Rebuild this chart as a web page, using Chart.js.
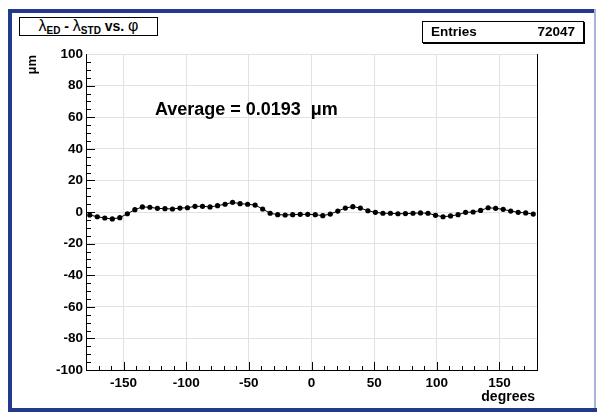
<!DOCTYPE html>
<html><head><meta charset="utf-8">
<script src="https://cdn.jsdelivr.net/npm/chart.js@4.4.1/dist/chart.umd.min.js"></script>
<style>
html,body{margin:0;padding:0;background:#fff;}
#wrap{position:relative;width:597px;height:412px;overflow:hidden;}
#c{position:absolute;left:0;top:0;}
.box{position:absolute;background:#fff;border:1px solid #000;font-family:"Liberation Sans",Arial,Helvetica,sans-serif;color:#000;box-sizing:border-box;}
#title{left:19px;top:17px;width:139px;height:19px;font-size:14px;font-weight:bold;text-align:center;line-height:16px;white-space:nowrap;}
#title .g{font-weight:normal;font-size:16px;}
#title sub{font-size:10px;vertical-align:-3px;line-height:0;}
#stats{left:422px;top:21px;width:162px;height:22px;box-shadow:1px 1px 0 #000;font-size:13.5px;font-weight:bold;line-height:20px;}
#stats .l{position:absolute;left:8px;top:0;}
#stats .r{position:absolute;right:8px;top:0;}
</style>
</head><body>
<div id="wrap">
<canvas id="c" width="597" height="412"></canvas>
<div class="box" id="title"><span class="g">λ</span><sub>ED</sub> - <span class="g">λ</span><sub>STD</sub> vs. <span class="g">φ</span></div>
<div class="box" id="stats"><span class="l">Entries</span><span class="r">72047</span></div>
</div>
<script>
// phi bin centres (degrees)
const phiDeg = [-177,-171,-165,-159,-153,-147,-141,-135,-129,-123,-117,-111,-105,-99,-93,-87,-81,-75,-69,-63,
  -57,-51,-45,-39,-33,-27,-21,-15,-9,-3,3,9,15,21,27,33,39,45,51,57,
  63,69,75,81,87,93,99,105,111,117,123,129,135,141,147,153,159,165,171,177];
// lambda_ED - lambda_STD (um)
const deltaLambda = [-1.9,-3.0,-3.8,-4.4,-3.6,-1.1,1.5,3.2,3.0,2.3,2.1,1.9,2.5,2.7,3.6,3.6,3.2,4.0,4.9,6.1,
  5.3,4.9,4.4,1.9,-0.8,-1.7,-1.9,-1.7,-1.5,-1.5,-1.7,-2.3,-1.3,0.6,2.5,3.4,2.5,0.8,-0.2,-0.8,
  -0.8,-1.1,-1.0,-0.8,-0.6,-0.8,-2.1,-3.0,-2.5,-1.7,-0.2,0.0,1.0,2.7,2.3,1.7,0.6,-0.2,-0.6,-1.3];
const xTicks = [-150,-100,-50,0,50,100,150];
const yTicks = [-100,-80,-60,-40,-20,0,20,40,60,80,100];
const xLabel = 'degrees';
const yLabel = 'μm';
const avgText = 'Average = 0.0193  μm';

const FONT = '"Liberation Sans", Arial, Helvetica, sans-serif';

const deco = {
  id: 'deco',
  beforeDatasetsDraw(chart) {
    const ctx = chart.ctx, a = chart.chartArea;
    const xs = chart.scales.x, ys = chart.scales.y;
    ctx.save();
    ctx.strokeStyle = '#000';
    ctx.lineWidth = 1;
    ctx.beginPath();
    for (let v = -95; v <= 95; v += 5) {
      const py = Math.round(ys.getPixelForValue(v)) + 0.5;
      const len = (v % 20 === 0) ? 9 : 5;
      ctx.moveTo(a.left, py); ctx.lineTo(a.left + len, py);
    }
    for (let v = -170; v <= 170; v += 10) {
      const px = Math.round(xs.getPixelForValue(v)) + 0.5;
      const len = (v % 50 === 0) ? 8 : 4;
      ctx.moveTo(px, a.bottom); ctx.lineTo(px, a.bottom - len);
    }
    ctx.stroke();
    ctx.beginPath();
    ctx.moveTo(Math.round(a.right) + 0.5, a.top); ctx.lineTo(Math.round(a.right) + 0.5, a.bottom);
    ctx.stroke();
    ctx.restore();
  },
  afterDraw(chart) {
    const ctx = chart.ctx, a = chart.chartArea;
    const xs = chart.scales.x, ys = chart.scales.y;
    ctx.save();
    ctx.fillStyle = '#000';
    ctx.font = 'bold 18px ' + FONT;
    ctx.textAlign = 'left'; ctx.textBaseline = 'middle';
    ctx.fillText(avgText, xs.getPixelForValue(-125), ys.getPixelForValue(64.6));
    ctx.font = 'bold 14px ' + FONT;
    ctx.textAlign = 'right'; ctx.textBaseline = 'alphabetic';
    ctx.fillText(xLabel, a.right - 2, 401);
    ctx.save();
    ctx.translate(36, a.top + 1);
    ctx.rotate(-Math.PI / 2);
    ctx.font = 'bold 13px ' + FONT;
    ctx.textAlign = 'right'; ctx.textBaseline = 'alphabetic';
    ctx.fillText(yLabel, 0, 0);
    ctx.restore();
    ctx.fillStyle = '#22398e';
    ctx.fillRect(8, 9, 4, 403);
    ctx.fillRect(8, 9, 586, 4);
    ctx.fillRect(8, 408, 589, 4);
    ctx.fillStyle = '#a9b3da';
    ctx.fillRect(594, 9, 2, 399);
    ctx.restore();
  }
};

new Chart(document.getElementById('c'), {
  type: 'scatter',
  data: {
    datasets: [{
      data: phiDeg.map((x, i) => ({ x: x, y: deltaLambda[i] })),
      showLine: true,
      borderColor: '#000',
      borderWidth: 1,
      backgroundColor: '#000',
      pointRadius: 2.6,
      pointBorderWidth: 0,
      tension: 0
    }]
  },
  options: {
    responsive: false,
    animation: false,
    events: [],
    layout: { padding: { left: 0, top: 54, right: 60, bottom: 0 } },
    plugins: { legend: { display: false }, tooltip: { enabled: false }, title: { display: false } },
    scales: {
      x: {
        type: 'linear', min: -180, max: 180,
        afterBuildTicks: s => { s.ticks = xTicks.map(v => ({ value: v })); },
        afterFit: s => { s.height = 42; },
        grid: { color: '#e2e2e2', lineWidth: 1, drawTicks: false },
        border: { color: '#000', width: 1 },
        ticks: { color: '#000', font: { family: FONT, weight: 'bold', size: 13.5 }, padding: 5, maxRotation: 0, autoSkip: false }
      },
      y: {
        type: 'linear', min: -100, max: 100,
        afterBuildTicks: s => { s.ticks = yTicks.map(v => ({ value: v })); },
        afterFit: s => { s.width = 86; },
        grid: { color: '#e2e2e2', lineWidth: 1, drawTicks: false },
        border: { color: '#000', width: 1 },
        ticks: { color: '#000', font: { family: FONT, weight: 'bold', size: 13.5 }, padding: 3 }
      }
    }
  },
  plugins: [deco]
});
</script>
</body></html>
